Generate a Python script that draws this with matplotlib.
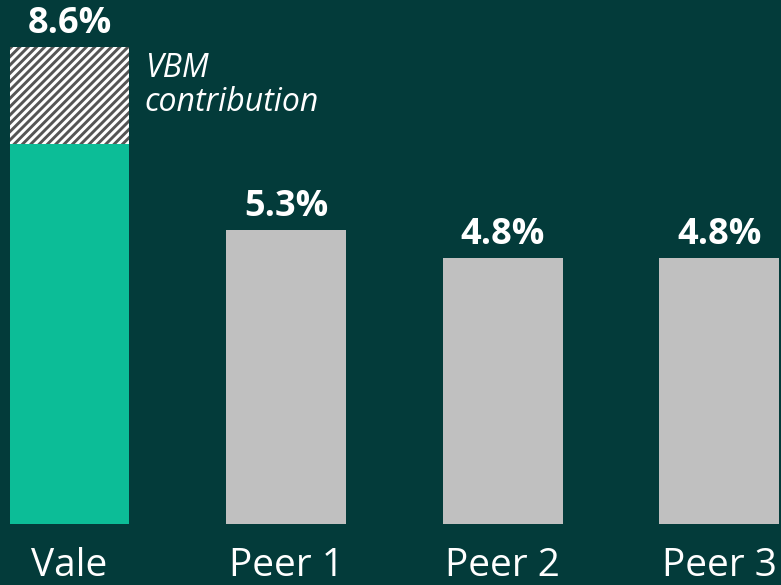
import matplotlib
matplotlib.use("Agg")
import matplotlib.pyplot as plt

# values (% )
categories = ["Vale", "Peer 1", "Peer 2", "Peer 3"]
base_values = [6.85, 5.3, 4.8, 4.8]      # solid part of each bar
vbm_values = [1.75, 0.0, 0.0, 0.0]       # hatched VBM contribution on top
total_labels = ["8.6%", "5.3%", "4.8%", "4.8%"]

BG = "#033b3a"
GREEN = "#0cbd97"
GREY = "#c0c0c0"

plt.rcParams["font.family"] = ["Open Sans", "DejaVu Sans"]
plt.rcParams["hatch.linewidth"] = 2.1

fig = plt.figure(figsize=(7.81, 5.85), dpi=100, facecolor=BG)
ax = fig.add_axes([0, 0, 1, 1])
ax.set_facecolor(BG)

x = list(range(len(categories)))
width = 0.554
colors = [GREEN] + [GREY] * (len(categories) - 1)

ax.bar(x, base_values, width=width, color=colors, edgecolor="none")
ax.bar(x[:1], vbm_values[:1], bottom=base_values[:1], width=width,
       color="white", hatch="////", edgecolor="#555555", linewidth=0)

totals = [b + v for b, v in zip(base_values, vbm_values)]
for xi, t, lab in zip(x, totals, total_labels):
    ax.annotate(lab, (xi, t), xytext=(0, 10), textcoords="offset points",
                ha="center", va="baseline", color="white",
                fontsize=26, fontweight="bold")

for xi, cat in zip(x, categories):
    ax.text(xi, -0.94, cat, ha="center", va="baseline", color="white",
            fontsize=28)

# side note for the hatched segment
right = x[0] + width / 2
ax.annotate("VBM", (right, totals[0]), xytext=(11, -22), textcoords="offset points",
            ha="left", va="baseline", color="white", fontsize=23, style="italic")
ax.annotate("contribution", (right, totals[0]), xytext=(11, -46), textcoords="offset points",
            ha="left", va="baseline", color="white", fontsize=23, style="italic")

ax.set_xlim(-0.321, 3.286)
ax.set_ylim(-1.10, 9.44)
ax.axis("off")

fig.savefig("out.png", dpi=100, facecolor=BG)
